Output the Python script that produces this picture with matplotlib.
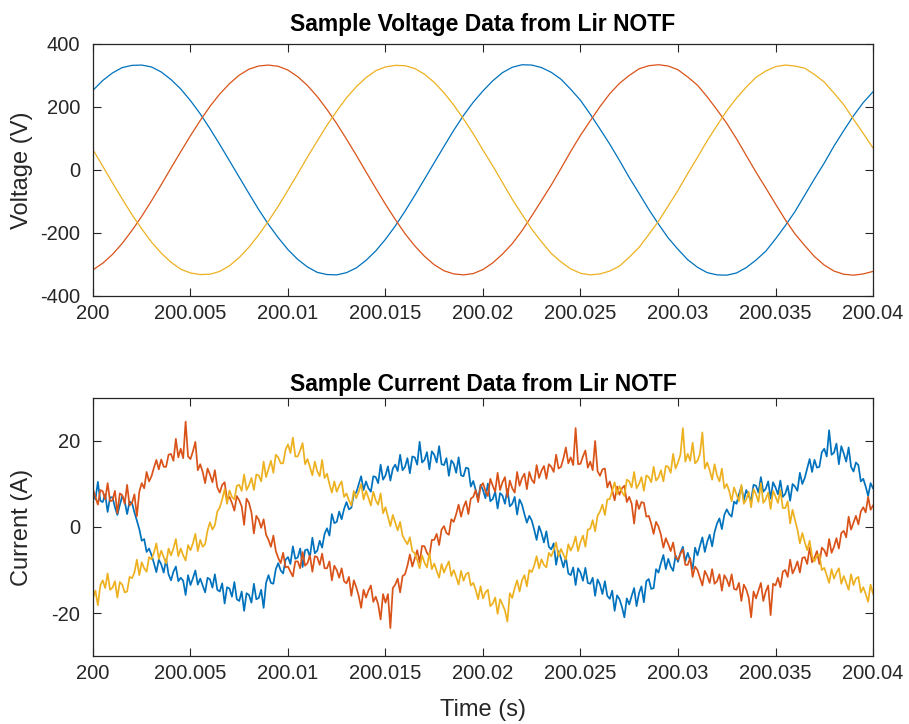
import numpy as np
import matplotlib
matplotlib.use('Agg')
from matplotlib import pyplot as plt

plt.rcParams['font.family'] = ['Liberation Sans', 'DejaVu Sans']
plt.rcParams['axes.unicode_minus'] = False

# phase voltages (V), sampled every 0.5 ms from 200 s to 200.04 s
volt_a = [253, 284, 308, 325, 332, 333, 327, 311, 287, 257, 220, 178, 131, 81, 29, -23, -75, -126, -173, -215,
          -253, -284, -308, -325, -332, -333, -326, -311, -287, -257, -220, -178, -131, -81, -29, 23, 75, 126, 173, 215,
          251, 283, 309, 326, 334, 333, 325, 310, 288, 256, 221, 177, 130, 82, 30, -24, -74, -125, -172, -216,
          -252, -285, -309, -326, -333, -334, -327, -310, -286, -258, -219, -177, -132, -80, -28, 22, 76, 125, 172, 214,
          248]
volt_b = [-317, -296, -268, -233, -192, -147, -98, -47, 6, 58, 109, 157, 202, 241, 274, 301, 320, 330, 333, 329,
          317, 296, 268, 233, 192, 147, 98, 47, -6, -58, -109, -157, -202, -241, -274, -301, -320, -330, -333, -329,
          -316, -295, -267, -234, -193, -146, -97, -48, 5, 59, 110, 156, 201, 242, 275, 300, 321, 331, 334, 330,
          318, 295, 269, 232, 191, 148, 99, 46, -7, -57, -108, -158, -203, -240, -275, -302, -321, -331, -334, -330,
          -322]
volt_c = [64, 12, -41, -92, -142, -187, -229, -264, -293, -315, -327, -332, -331, -322, -304, -278, -245, -206, -162, -115,
          -64, -12, 41, 92, 142, 187, 229, 264, 293, 315, 327, 332, 331, 322, 304, 278, 245, 206, 162, 115,
          63, 13, -40, -93, -141, -188, -228, -265, -292, -314, -328, -333, -330, -321, -305, -277, -246, -205, -163, -114,
          -65, -11, 40, 93, 141, 188, 228, 263, 294, 314, 328, 333, 330, 323, 303, 279, 244, 207, 161, 116,
          70]

# phase currents (A), sampled every 0.125 ms
curr_a = [8.2, 6.4, 10.5, 6.1, 5.8, 7.6, 3.5, 6.9, 6.9, 4.6, 2.8, 5.1, 7.2, 6.0, 3.0, 5.9,
          5.6, 3.4, 1.5, -0.5, -3.2, -2.8, -5.8, -5.0, -6.5, -8.4, -10.5, -7.6, -8.7, -10.6, -7.5, -11.0,
          -12.4, -10.4, -9.2, -12.6, -11.8, -12.5, -15.8, -11.2, -13.5, -11.9, -10.1, -13.4, -12.0, -13.6, -15.2, -11.8,
          -12.2, -14.1, -11.0, -14.6, -15.0, -13.1, -17.8, -14.0, -14.3, -16.2, -12.8, -16.8, -17.2, -15.0, -19.5, -15.4,
          -15.8, -17.6, -13.2, -16.8, -16.5, -14.6, -18.8, -13.0, -11.2, -13.0, -13.2, -9.8, -8.4, -10.1, -10.8, -7.6,
          -7.0, -8.6, -4.5, -7.4, -7.1, -5.0, -9.3, -5.4, -5.2, -7.0, -2.5, -6.1, -5.5, -3.2, -4.8, -1.6,
          -0.3, -2.0, 3.0, 0.9, 1.2, 3.6, 1.8, 4.2, 5.8, 4.1, 4.5, 7.6, 8.0, 9.9, 11.8, 8.6,
          10.6, 9.0, 8.2, 11.8, 11.6, 10.2, 14.5, 11.0, 12.0, 14.1, 10.8, 13.6, 14.5, 13.0, 16.8, 13.2,
          14.0, 16.0, 12.5, 16.4, 16.2, 14.5, 19.8, 15.0, 15.6, 17.4, 13.4, 17.6, 16.8, 15.0, 18.8, 14.6,
          14.4, 16.0, 11.9, 15.5, 14.7, 12.6, 16.2, 12.0, 11.8, 13.8, 13.6, 9.4, 10.7, 8.6, 6.5, 9.8,
          8.6, 6.7, 10.1, 6.0, 6.5, 8.2, 4.3, 7.9, 7.3, 5.4, 8.8, 4.8, 5.4, 7.0, 2.9, 6.4,
          5.2, 3.0, 1.0, 2.6, 1.5, -0.6, -3.0, 0.2, -1.4, -3.6, -1.0, -4.6, -5.2, -3.8, -8.8, -5.6,
          -7.3, -9.4, -7.0, -10.8, -11.2, -9.4, -13.5, -9.6, -10.6, -12.5, -9.5, -13.0, -13.2, -11.8, -16.0, -12.2,
          -13.4, -15.6, -12.6, -16.0, -16.7, -14.8, -19.5, -15.9, -16.8, -18.6, -21.0, -16.6, -18.0, -16.0, -14.2, -18.4,
          -15.4, -13.8, -17.5, -12.6, -12.1, -14.4, -14.2, -9.8, -10.6, -8.4, -6.5, -9.8, -7.4, -9.2, -10.2, -6.6,
          -8.1, -6.0, -4.6, -8.0, -6.0, -7.8, -9.8, -4.8, -6.6, -4.4, -2.4, -5.8, -3.4, -1.8, -4.5, -1.2,
          0.8, 2.0, -0.5, 2.8, 4.1, 3.0, 2.4, 5.9, 5.4, 7.6, 9.4, 6.2, 8.6, 7.2, 6.2, 9.8,
          9.6, 8.0, 11.6, 8.2, 8.9, 10.6, 6.6, 10.4, 9.2, 7.6, 10.8, 7.0, 7.7, 9.6, 6.1, 10.0,
          9.4, 8.4, 12.6, 10.0, 11.4, 13.6, 15.8, 12.8, 15.6, 13.8, 14.0, 17.4, 18.2, 16.4, 22.5, 16.8,
          17.3, 19.4, 14.6, 18.8, 17.1, 15.2, 18.5, 14.0, 12.9, 15.0, 14.4, 10.6, 11.2, 9.4, 7.2, 10.2,
          9.0]
curr_b = [8.8, 7.0, 5.2, 8.6, 8.3, 6.4, 10.2, 6.0, 6.2, 8.4, 3.2, 7.8, 7.4, 5.4, 9.8, 5.0,
          5.6, 7.6, 2.5, 8.2, 10.2, 9.0, 12.8, 10.6, 11.8, 13.8, 15.6, 13.4, 15.7, 14.0, 14.0, 16.8,
          17.0, 15.4, 20.5, 16.2, 18.2, 16.0, 24.5, 16.4, 15.8, 17.6, 19.8, 13.2, 14.6, 12.8, 10.2, 13.6,
          12.2, 10.4, 13.2, 9.2, 8.0, 9.8, 10.4, 6.4, 7.0, 5.6, 3.8, 7.2, 6.2, 4.8, 0.5, 6.6,
          5.6, 3.4, -1.5, 2.6, 1.7, -0.2, 1.8, -1.8, -3.0, -4.6, -2.0, -5.6, -7.2, -8.4, -6.0, -9.4,
          -9.2, -10.4, -11.5, -8.0, -8.0, -9.6, -5.8, -9.0, -8.4, -6.6, -10.4, -6.8, -7.0, -8.8, -6.2, -9.6,
          -9.6, -8.0, -12.4, -9.0, -10.0, -11.8, -9.6, -12.6, -13.1, -11.6, -16.0, -12.4, -14.0, -16.0, -18.8, -14.6,
          -16.4, -14.8, -13.6, -17.4, -16.2, -18.0, -21.5, -15.6, -17.6, -15.6, -23.5, -14.2, -13.4, -12.0, -15.2, -11.4,
          -11.0, -9.0, -6.4, -9.2, -7.3, -5.4, -8.2, -4.4, -4.5, -6.0, -6.8, -3.0, -3.0, -1.6, -4.2, -0.6,
          0.2, -1.4, -1.8, 1.8, 1.2, 3.0, 5.2, 2.4, 4.6, 6.0, 3.0, 6.6, 7.0, 8.6, 5.8, 9.4,
          10.2, 8.4, 7.2, 11.2, 9.6, 8.2, 12.6, 8.6, 10.4, 11.6, 7.0, 10.8, 9.0, 8.0, 12.8, 9.6,
          11.4, 12.4, 8.8, 12.8, 11.0, 10.2, 14.4, 11.4, 13.1, 14.2, 11.2, 14.6, 14.0, 12.8, 16.8, 13.6,
          14.0, 16.0, 18.5, 14.8, 16.2, 14.4, 23.0, 14.6, 14.7, 16.4, 17.8, 13.8, 15.2, 13.2, 20.0, 13.0,
          11.9, 13.4, 13.6, 9.2, 10.6, 8.6, 6.2, 9.4, 7.5, 9.0, 9.6, 5.8, 7.0, 5.4, 0.8, 6.2,
          4.2, 5.8, 5.6, 2.4, 2.6, 0.8, -1.6, 1.2, 0.1, -1.8, -4.8, -2.6, -4.0, -5.6, -3.6, -7.0,
          -7.6, -6.2, -5.2, -8.8, -8.8, -7.2, -11.6, -9.2, -10.0, -11.8, -13.6, -10.2, -11.4, -13.0, -9.8, -13.2,
          -12.6, -11.0, -14.8, -11.2, -12.2, -13.8, -11.0, -14.4, -14.6, -13.0, -17.2, -13.4, -14.5, -16.4, -21.0, -15.0,
          -16.6, -14.8, -13.0, -17.2, -15.0, -13.6, -20.5, -13.2, -13.6, -11.8, -14.0, -10.4, -10.0, -11.6, -7.6, -10.8,
          -9.6, -8.0, -10.6, -7.2, -7.0, -8.6, -4.8, -8.2, -7.1, -5.6, -8.6, -4.8, -5.4, -6.8, -2.8, -6.0,
          -4.6, -2.6, -5.0, -1.4, -0.9, -2.4, 2.4, -0.6, 1.0, 2.6, 0.6, 3.6, 4.6, 3.4, 7.0, 4.0,
          5.0]
curr_c = [-16.6, -14.8, -18.2, -13.6, -12.4, -14.2, -10.8, -14.6, -14.1, -12.6, -16.4, -12.8, -13.4, -15.2, -15.0, -11.6,
          -11.9, -10.6, -7.6, -11.2, -8.2, -9.6, -10.4, -7.0, -7.5, -6.0, -3.8, -7.4, -5.5, -7.0, -8.5, -5.0,
          -6.6, -5.0, -2.8, -6.8, -5.0, -6.6, -7.8, -4.2, -5.4, -3.8, -1.6, -5.6, -3.0, -4.6, -4.0, -0.8,
          1.1, -0.6, 0.4, 3.6, 4.5, 6.4, 8.8, 5.4, 8.5, 7.0, 6.4, 9.6, 9.8, 8.4, 12.2, 8.6,
          9.7, 11.4, 8.6, 12.2, 12.0, 10.6, 15.2, 11.6, 13.5, 15.4, 12.6, 16.8, 16.2, 14.8, 14.8, 18.0,
          19.2, 17.2, 20.8, 16.4, 16.4, 17.8, 19.5, 14.6, 15.8, 14.0, 12.0, 15.2, 13.0, 11.8, 15.6, 11.4,
          12.4, 10.0, 8.0, 10.6, 8.2, 9.6, 10.6, 7.0, 7.8, 6.2, 5.0, 8.4, 6.7, 8.2, 10.0, 6.4,
          8.4, 6.8, 5.0, 8.2, 6.2, 5.2, 7.8, 3.2, 4.6, 2.4, 0.2, 2.8, 1.0, -0.8, 1.2, -2.0,
          -3.1, -4.0, -2.4, -5.6, -6.1, -7.6, -9.6, -6.6, -8.3, -9.4, -6.0, -9.8, -8.5, -10.2, -11.8, -8.6,
          -10.6, -9.2, -8.0, -11.4, -10.0, -11.6, -13.4, -10.2, -12.5, -11.0, -10.6, -13.6, -13.0, -14.6, -16.8, -13.8,
          -16.6, -15.2, -14.6, -18.4, -17.8, -16.4, -20.2, -16.8, -18.0, -19.4, -22.0, -15.4, -16.5, -14.2, -12.4, -15.0,
          -12.4, -11.2, -13.8, -10.0, -10.5, -9.0, -6.8, -9.6, -7.5, -8.8, -9.4, -6.0, -6.8, -5.4, -3.6, -6.8,
          -5.1, -6.4, -7.6, -4.0, -5.5, -4.2, -2.2, -5.6, -3.5, -2.0, -4.6, -0.6, -0.4, 1.6, -1.0, 2.6,
          3.6, 5.2, 2.8, 6.4, 6.5, 8.4, 10.4, 7.6, 9.5, 8.2, 7.2, 11.0, 10.6, 9.2, 12.8, 9.0,
          10.0, 11.6, 8.4, 12.0, 11.6, 10.4, 14.0, 10.8, 11.5, 13.2, 10.6, 14.2, 14.0, 12.6, 17.0, 13.6,
          15.0, 16.8, 23.0, 15.2, 17.0, 15.4, 19.6, 14.8, 15.4, 17.0, 22.0, 13.6, 15.0, 13.2, 11.0, 14.6,
          12.0, 10.6, 13.6, 9.0, 10.0, 8.4, 6.0, 9.2, 7.6, 6.0, 9.8, 5.4, 6.4, 8.2, 4.6, 8.8,
          7.6, 5.8, 10.2, 5.6, 6.5, 8.0, 4.2, 8.4, 7.1, 5.6, 8.6, 4.4, 4.4, 6.0, 0.8, 4.0,
          1.6, -0.6, -3.8, -1.4, -3.5, -5.4, -3.2, -6.8, -8.0, -6.6, -6.4, -10.0, -9.5, -11.2, -13.0, -9.8,
          -12.0, -10.6, -9.6, -13.2, -11.4, -13.0, -14.6, -11.0, -13.5, -12.0, -11.6, -15.2, -14.0, -15.6, -17.4, -13.4,
          -15.5]

xticks = [200, 200.005, 200.01, 200.015, 200.02, 200.025, 200.03, 200.035, 200.04]
xticklabels = ['200', '200.005', '200.01', '200.015', '200.02', '200.025', '200.03', '200.035', '200.04']

colors = ['#0072BD', '#D95319', '#EDB120']
dark = '#262626'

t_v = np.linspace(200, 200.04, len(volt_a))

fig = plt.figure(figsize=(9.09, 7.24), dpi=100)
ax1 = fig.add_axes([0.1023, 0.5912, 0.8581, 0.3481])
ax2 = fig.add_axes([0.1023, 0.0939, 0.8581, 0.3564])

for y, c in zip([volt_a, volt_b, volt_c], colors):
    ax1.plot(t_v, y, color=c, lw=0.9)
for y, c in zip([curr_a, curr_b, curr_c], colors):
    ax2.plot(np.linspace(200, 200.04, len(y)), y, color=c, lw=1.25)

ax1.set_ylim(-400, 400)
ax1.set_yticks([-400, -200, 0, 200, 400])
ax2.set_ylim(-30, 30)
ax2.set_yticks([-20, 0, 20])

for ax in (ax1, ax2):
    ax.set_xlim(200, 200.04)
    ax.set_xticks(xticks)
    ax.set_xticklabels(xticklabels)
    ax.tick_params(direction='in', top=True, right=True, length=5.6, width=0.8,
                   color=dark, labelcolor=dark, labelsize=14.5)
    ax.tick_params(axis='x', pad=6)
    ax.tick_params(axis='y', pad=9)
    for s in ax.spines.values():
        s.set_color(dark)
        s.set_linewidth(0.9)

ax1.set_title('Sample Voltage Data from Lir NOTF', fontsize=16.5, fontweight='bold', pad=9)
ax2.set_title('Sample Current Data from Lir NOTF', fontsize=16.5, fontweight='bold', pad=5)
ax1.set_ylabel('Voltage (V)', fontsize=17, color=dark)
ax2.set_ylabel('Current (A)', fontsize=17, color=dark)
ax2.set_xlabel('Time (s)', fontsize=17, color=dark)
ax1.yaxis.set_label_coords(-0.077, 0.5)
ax2.yaxis.set_label_coords(-0.077, 0.5)
ax2.xaxis.set_label_coords(0.5, -0.165)

fig.savefig('out.png', dpi=100)
